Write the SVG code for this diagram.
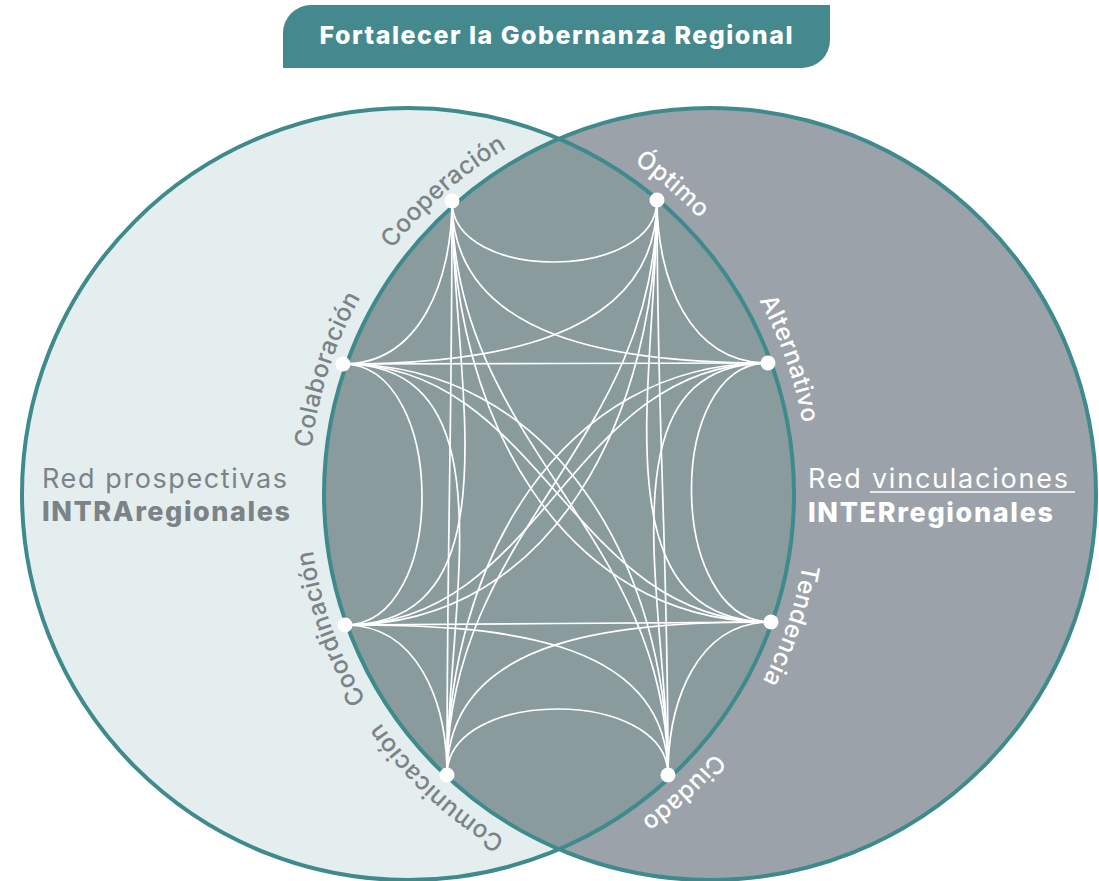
<svg xmlns="http://www.w3.org/2000/svg" width="1099" height="881" viewBox="0 0 1099 881">
<style>
.lbl{font-family:Inter,Lato,"Liberation Sans",sans-serif;font-size:24.5px;font-weight:500;letter-spacing:0.3px}
.lg{fill:#7b8387}
.lw{fill:#ffffff}
.edge{fill:none;stroke:#ffffff;stroke-width:1.7}
.node{fill:#ffffff}
.ring{fill:none;stroke:#3e8a8c;stroke-width:4}
.big{font-family:Inter,Lato,"Liberation Sans",sans-serif;font-size:27px}
</style>
<defs>
<clipPath id="rc"><circle cx="710" cy="494" r="386"/></clipPath>
<path id="pCoop" d="M309.8,468.8 A401,401 0 0 1 735.2,93.8"/>
<path id="pCola" d="M352.7,676 A401,401 0 0 1 528,136.7"/>
<path id="pCoor" d="M537.4,855.9 A401,401 0 0 1 348.1,321.4"/>
<path id="pComu" d="M724,894.8 A401,401 0 0 1 309.2,508"/>
<path id="pOpti" d="M376.5,94.2 A401,401 0 0 1 807.8,462.5"/>
<path id="pAlte" d="M580.6,132.1 A401,401 0 0 1 769.9,666.6"/>
<path id="pTend" d="M768.4,318.2 A401,401 0 0 1 583.8,854.4"/>
<path id="pCiud" d="M808.7,510.1 A401,401 0 0 1 391.9,894.7"/>
</defs>
<rect width="1099" height="881" fill="#ffffff"/>
<g id="venn">
<circle cx="408" cy="494" r="386" fill="#e4eeef"/>
<circle cx="710" cy="494" r="386" fill="#9ba2a9"/>
<circle cx="408" cy="494" r="386" fill="#8a9b9e" clip-path="url(#rc)"/>
<circle class="ring" cx="408" cy="494" r="386"/>
<circle class="ring" cx="710" cy="494" r="386"/>
</g>
<g id="title">
<path d="M283,68 V33 A28,28 0 0 1 311,5 H830 V40 A28,28 0 0 1 802,68 Z" fill="#43898d"/>
<text x="556" y="44" text-anchor="middle" font-family="Inter,Lato,'Liberation Sans',sans-serif" font-weight="800" font-size="25" fill="#ffffff" textLength="473">Fortalecer la Gobernanza Regional</text>
</g>
<g id="connectors">
<path class="edge" d="M452,201 C452,283 657,282 657,200"/>
<path class="edge" d="M452,201 C452,343 626,363 768,363"/>
<path class="edge" d="M452,201 C452,412 560,622 771,622"/>
<path class="edge" d="M452,201 C452,446 668,530 668,775"/>
<path class="edge" d="M452,201 C452,431 447,545 447,775"/>
<path class="edge" d="M452,201 C452,376 520,625 345,625"/>
<path class="edge" d="M452,201 C452,279 421,364 343,364"/>
<path class="edge" d="M657,200 C657,279 689,363 768,363"/>
<path class="edge" d="M657,200 C657,375 596,622 771,622"/>
<path class="edge" d="M657,200 C657,430 668,545 668,775"/>
<path class="edge" d="M657,200 C657,445 447,530 447,775"/>
<path class="edge" d="M657,200 C657,411 556,625 345,625"/>
<path class="edge" d="M657,200 C657,342 485,364 343,364"/>
<path class="edge" d="M768,363 C664,363 667,622 771,622"/>
<path class="edge" d="M768,363 C598,363 668,605 668,775"/>
<path class="edge" d="M768,363 C559,363 447,566 447,775"/>
<path class="edge" d="M768,363 C569,363 544,625 345,625"/>
<path class="edge" d="M768,363 C598,363 513,364 343,364"/>
<path class="edge" d="M771,622 C697,622 668,701 668,775"/>
<path class="edge" d="M771,622 C628,622 447,632 447,775"/>
<path class="edge" d="M771,622 C601,622 515,625 345,625"/>
<path class="edge" d="M771,622 C571,622 543,364 343,364"/>
<path class="edge" d="M668,775 C668,687 447,687 447,775"/>
<path class="edge" d="M668,775 C668,633 487,625 345,625"/>
<path class="edge" d="M668,775 C668,565 553,364 343,364"/>
<path class="edge" d="M447,775 C447,702 418,625 345,625"/>
<path class="edge" d="M447,775 C447,605 513,364 343,364"/>
<path class="edge" d="M345,625 C449,625 447,364 343,364"/>
</g>
<g id="n-cooperacion"><circle class="node" cx="452" cy="201" r="7.5"/><text class="lbl lg"><textPath href="#pCoop" startOffset="50%" text-anchor="middle">Cooperación</textPath></text></g>
<g id="n-colaboracion"><circle class="node" cx="343" cy="364" r="7.5"/><text class="lbl lg"><textPath href="#pCola" startOffset="50%" text-anchor="middle">Colaboración</textPath></text></g>
<g id="n-coordinacion"><circle class="node" cx="345" cy="625" r="7.5"/><text class="lbl lg"><textPath href="#pCoor" startOffset="50%" text-anchor="middle">Coordinación</textPath></text></g>
<g id="n-comunicacion"><circle class="node" cx="447" cy="775" r="7.5"/><text class="lbl lg"><textPath href="#pComu" startOffset="50%" text-anchor="middle">Comunicación</textPath></text></g>
<g id="n-optimo"><circle class="node" cx="657" cy="200" r="7.5"/><text class="lbl lw"><textPath href="#pOpti" startOffset="50%" text-anchor="middle">Óptimo</textPath></text></g>
<g id="n-alternativo"><circle class="node" cx="768" cy="363" r="7.5"/><text class="lbl lw"><textPath href="#pAlte" startOffset="50%" text-anchor="middle">Alternativo</textPath></text></g>
<g id="n-tendencia"><circle class="node" cx="771" cy="622" r="7.5"/><text class="lbl lw"><textPath href="#pTend" startOffset="50%" text-anchor="middle">Tendencia</textPath></text></g>
<g id="n-ciudado"><circle class="node" cx="668" cy="775" r="7.5"/><text class="lbl lw"><textPath href="#pCiud" startOffset="50%" text-anchor="middle">Ciudado</textPath></text></g>
<g id="intra">
<text class="big" x="42" y="488" fill="#7b8387" textLength="245">Red prospectivas</text>
<text class="big" x="42" y="521" fill="#7b8387" font-weight="800" textLength="248">INTRAregionales</text>
</g>
<g id="inter">
<text class="big" x="808" y="488" fill="#ffffff" textLength="260">Red vinculaciones</text>
<line x1="870" y1="492" x2="1075" y2="492" stroke="#ffffff" stroke-width="1.5"/>
<text class="big" x="808" y="522" fill="#ffffff" font-weight="800" textLength="245">INTERregionales</text>
</g>
</svg>
